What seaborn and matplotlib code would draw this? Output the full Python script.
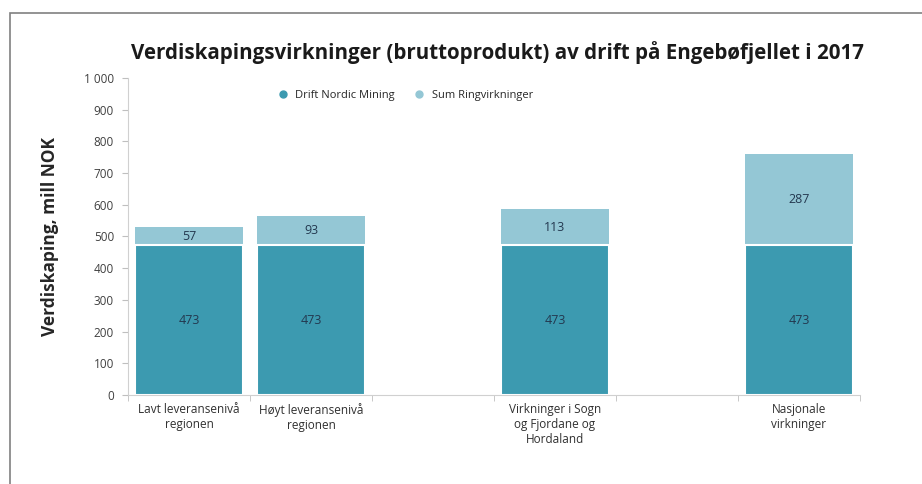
import numpy as np
import pandas as pd
import matplotlib
matplotlib.use("Agg")
import matplotlib.pyplot as plt
import matplotlib.patches as mpatches
from matplotlib.ticker import FuncFormatter, FixedLocator
import seaborn as sns

# data (blank slots are the gaps in the original chart)
categories = ["Lavt leveransenivå\nregionen", "Høyt leveransenivå\nregionen", " ",
              "Virkninger i Sogn\nog Fjordane og\nHordaland", "  ",
              "Nasjonale\nvirkninger"]
drift = [473, 473, np.nan, 473, np.nan, 473]
ringvirkninger = [57, 93, np.nan, 113, np.nan, 287]

series_names = ["Drift Nordic Mining", "Sum Ringvirkninger"]
dark = "#3c9ab0"
light = "#94c7d5"
text_col = "#23384f"

df = pd.DataFrame({"kategori": categories, "drift": drift, "ring": ringvirkninger})
df["total"] = df["drift"] + df["ring"]

sns.set_style("white")
plt.rcParams["font.family"] = ["Open Sans", "DejaVu Sans"]

fig = plt.figure(figsize=(9.22, 4.84), dpi=100)
ax = fig.add_axes([0.1388, 0.1839, 0.794, 0.655])

# stacked bars: total first (light), then base (dark) on top
sns.barplot(data=df, x="kategori", y="total", order=categories, color=light,
            saturation=1, width=0.89, edgecolor="white", linewidth=0, ax=ax, errorbar=None)
sns.barplot(data=df, x="kategori", y="drift", order=categories, color=dark,
            saturation=1, width=0.89, edgecolor="white", linewidth=1.5, ax=ax, errorbar=None)

for i, row in df.iterrows():
    if np.isnan(row["drift"]):
        continue
    ax.text(i, row["drift"] / 2, f"{int(row['drift'])}", ha="center", va="center",
            fontsize=9, color=text_col)
    ax.text(i, row["drift"] + row["ring"] / 2, f"{int(row['ring'])}", ha="center",
            va="center", fontsize=9, color=text_col)

ax.set_xlim(-0.5, len(categories) - 0.5)
ax.set_ylim(0, 1000)
ax.set_yticks(range(0, 1001, 100))
ax.yaxis.set_major_formatter(FuncFormatter(lambda v, p: f"{int(v):,}".replace(",", " ")))
ax.tick_params(axis="y", labelsize=8.5, colors="#404040", length=4, width=0.8,
               left=True, color="#bfbfbf", pad=6)
ax.tick_params(axis="x", labelsize=8.5, colors="#303030", length=0, pad=6)
ax.xaxis.set_minor_locator(FixedLocator(np.arange(-0.5, len(categories), 1.0)))
ax.tick_params(axis="x", which="minor", bottom=True, length=4, color="#bfbfbf")

for s in ["top", "right"]:
    ax.spines[s].set_visible(False)
ax.spines["left"].set_color("#d0d0d0")
ax.spines["bottom"].set_color("#d0d0d0")

ax.set_xlabel("")
ax.set_ylabel("Verdiskaping, mill NOK", fontsize=12.5, fontweight="bold", labelpad=18)

fig.suptitle("Verdiskapingsvirkninger (bruttoprodukt) av drift på Engebøfjellet i 2017",
             x=0.539, y=0.915, fontsize=14.8, fontweight="bold", color="#1a1a1a")

handles = [plt.Line2D([], [], marker="o", linestyle="", color=dark, markersize=5),
           plt.Line2D([], [], marker="o", linestyle="", color=light, markersize=5)]
ax.legend(handles, series_names, loc="upper center", bbox_to_anchor=(0.375, 0.995),
          ncol=2, frameon=False, fontsize=8, handletextpad=0.1, columnspacing=1.2)

# outer chart frame (left and top visible)
fig.patches.append(mpatches.Rectangle((10 / 922, -0.05), 1.0, 1 - 13 / 484 + 0.05,
                                      transform=fig.transFigure, fill=False,
                                      edgecolor="#808080", linewidth=1.2))

fig.savefig("out.png", dpi=100)
